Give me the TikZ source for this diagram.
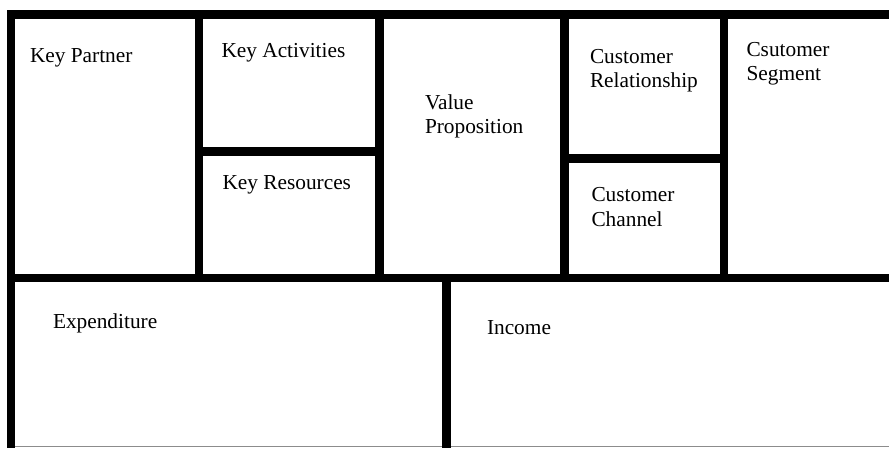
\documentclass[tikz,border=0pt]{standalone}
\usepackage{fontspec}
\setmainfont{Liberation Serif}
\newcommand{\twoln}[2]{\vtop{\hbox{#1}\hbox{#2}}}
\begin{document}
\begin{tikzpicture}[x=1pt,y=-1pt,
  wall/.style={line width=8.5pt,black,line cap=rect},
  thin/.style={line width=1pt,black!45},
  lbl/.style={anchor=base west,inner sep=0pt,outer sep=0pt,
    font=\fontsize{21.33}{24.7}\selectfont}]
  \useasboundingbox (0,0) rectangle (889,448);
  \fill[white] (0,0) rectangle (889,448);

  % frame corners and junctions
  \coordinate (tl) at (11,14.5);
  \coordinate (tr) at (889,14.5);
  \coordinate (bl) at (11,448);
  \coordinate (ml) at (11,278);
  \coordinate (mr) at (889,278);
  \coordinate (v1t) at (199,14.5);   \coordinate (v1b) at (199,278);
  \coordinate (v2t) at (379.5,14.5); \coordinate (v2b) at (379.5,278);
  \coordinate (v3t) at (564.5,14.5); \coordinate (v3b) at (564.5,278);
  \coordinate (v4t) at (724,14.5);   \coordinate (v4b) at (724,278);
  \coordinate (h1l) at (199,151.5);  \coordinate (h1r) at (379.5,151.5);
  \coordinate (h2l) at (564.5,158.5); \coordinate (h2r) at (724,158.5);
  \coordinate (vbt) at (446.5,278);  \coordinate (vbb) at (446.5,448);
  \coordinate (gl) at (15,446);      \coordinate (gr) at (889,446);

  % bottom hairline
  \draw[thin] (gl) -- (gr);

  % thick walls
  \draw[wall] (tl) -- (tr);
  \draw[wall,line cap=butt] (11,10) -- (bl);
  \draw[wall] (ml) -- (mr);
  \draw[wall,line cap=butt] (v1t) -- (v1b);
  \draw[wall,line cap=butt] (v2t) -- (v2b);
  \draw[wall,line cap=butt] (v3t) -- (v3b);
  \draw[wall,line cap=butt] (v4t) -- (v4b);
  \draw[wall,line cap=butt] (h1l) -- (h1r);
  \draw[wall,line cap=butt] (h2l) -- (h2r);
  \draw[wall,line cap=butt] (vbt) -- (vbb);

  % block titles
  \node[lbl] (kp) at (30,62) {Key Partner};
  \node[lbl] (ka) at (221.5,57) {Key Activities};
  \node[lbl] (kr) at (222.5,189) {Key Resources};
  \node[lbl] (vp) at (425,109) {\twoln{Value}{Proposition}};
  \node[lbl] (crel) at (590,63) {\twoln{Customer}{Relationship}};
  \node[lbl] (cseg) at (746.5,56) {\twoln{Csutomer}{Segment}};
  \node[lbl] (cch) at (591.5,201.5) {\twoln{Customer}{Channel}};
  \node[lbl] (exp) at (53,328) {Expenditure};
  \node[lbl] (inc) at (487,334) {Income};
\end{tikzpicture}
\end{document}
